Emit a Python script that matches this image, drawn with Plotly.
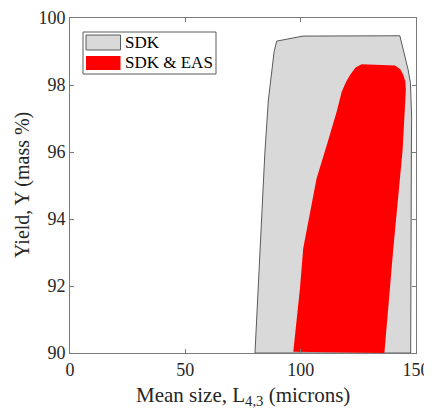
import plotly.graph_objects as go

# SDK feasible region (outer, grey)
sdk_x = [80.2, 82.3, 84.5, 86.0, 87.4, 88.5, 89.6, 101.0, 143.0, 146.6, 147.6, 148.1, 148.0, 147.7, 80.2]
sdk_y = [90.0, 93.0, 96.0, 97.55, 98.45, 99.0, 99.31, 99.46, 99.47, 98.45, 98.05, 97.05, 96.0, 90.0, 90.0]

# SDK & EAS feasible region (inner, red)
eas_x = [96.8, 98.2, 99.7, 101.1, 104.0, 106.9, 111.3, 115.6, 117.8, 119.6, 121.4, 123.8, 126.4,
         140.9, 143.2, 144.5, 145.4, 145.6, 144.2, 140.1, 136.3, 96.8]
eas_y = [90.04, 90.93, 91.93, 93.12, 94.22, 95.21, 96.2, 97.2, 97.8, 98.08, 98.3, 98.52, 98.62,
         98.58, 98.47, 98.3, 98.1, 97.85, 96.06, 93.07, 90.0, 90.04]

series_names = ["SDK", "SDK & EAS"]
series_fill = ["#d9d9d9", "#ff0000"]
x_ticks = [0, 50, 100, 150]
y_ticks = [90, 92, 94, 96, 98, 100]
x_title = "Mean size, L<sub>4,3</sub> (microns)"
y_title = "Yield, Y (mass %)"

FONT = "Liberation Serif, Times New Roman, serif"
TXT = "#262626"
AX = "#7a7a7a"
OUTLINE = "#5a5a5a"

# page has an 8px body margin; target plot box in page pixels: x 70..416, y 18..353
OFF = 8
W, H = 432 - OFF, 409 - OFF
ML, MT = 70 - OFF, 18 - OFF
MR = W - (416 - OFF)
MB = H - (353 - OFF)
PW, PH = W - ML - MR, H - MT - MB


def px(x):
    return (x - OFF - ML) / PW


def py(y):
    return 1 - (y - OFF - MT) / PH


fig = go.Figure()
fig.add_trace(go.Scatter(
    x=sdk_x, y=sdk_y, mode="lines", fill="toself", name=series_names[0],
    fillcolor=series_fill[0], line=dict(color=OUTLINE, width=1), showlegend=False,
    hoverinfo="skip",
))
fig.add_trace(go.Scatter(
    x=eas_x, y=eas_y, mode="lines", fill="toself", name=series_names[1],
    fillcolor=series_fill[1], line=dict(color=series_fill[1], width=0),
    showlegend=False, hoverinfo="skip",
))

shapes = []
annotations = []
# legend box
shapes.append(dict(type="rect", xref="paper", yref="paper",
                   x0=px(83), x1=px(216), y0=py(74), y1=py(32),
                   fillcolor="white", line=dict(color=OUTLINE, width=1), layer="above"))
sw_rows = [(35, 50), (56, 70)]
for i, (name, col) in enumerate(zip(series_names, series_fill)):
    t, b = sw_rows[i]
    shapes.append(dict(type="rect", xref="paper", yref="paper",
                       x0=px(86), x1=px(120.5), y0=py(b), y1=py(t),
                       fillcolor=col,
                       line=dict(color=OUTLINE if i == 0 else col, width=1 if i == 0 else 0),
                       layer="above"))
    annotations.append(dict(text=name, xref="paper", yref="paper",
                            x=px(123), y=py((t + b) / 2), xanchor="left", yanchor="middle",
                            showarrow=False, font=dict(family=FONT, size=17, color="black")))

# axis titles
annotations.append(dict(text=x_title, xref="paper", yref="paper",
                        x=px(243), y=py(396), xanchor="center", yanchor="middle",
                        showarrow=False, font=dict(family=FONT, size=21, color=TXT)))
annotations.append(dict(text=y_title, xref="paper", yref="paper",
                        x=px(23), y=py(185), xanchor="center", yanchor="middle", textangle=-90,
                        showarrow=False, font=dict(family=FONT, size=20, color=TXT)))

fig.update_layout(
    width=W, height=H,
    margin=dict(l=ML, r=MR, t=MT, b=MB, autoexpand=False),
    paper_bgcolor="white", plot_bgcolor="white",
    font=dict(family=FONT, size=18, color=TXT),
    showlegend=False,
    shapes=shapes,
    annotations=annotations,
    xaxis=dict(
        range=[0, 150], tickvals=x_ticks, ticktext=[str(v) for v in x_ticks],
        showgrid=False, zeroline=False, showline=True, mirror="ticks",
        linecolor=AX, linewidth=1, ticks="inside", ticklen=4, tickcolor=AX,
        tickfont=dict(family=FONT, size=18, color=TXT), automargin=False,
    ),
    yaxis=dict(
        range=[90, 100], tickvals=y_ticks, ticktext=[str(v) for v in y_ticks],
        showgrid=False, zeroline=False, showline=True, mirror="ticks",
        linecolor=AX, linewidth=1, ticks="inside", ticklen=4, tickcolor=AX,
        tickfont=dict(family=FONT, size=18, color=TXT), automargin=False,
    ),
)

fig.write_html("out.html")
